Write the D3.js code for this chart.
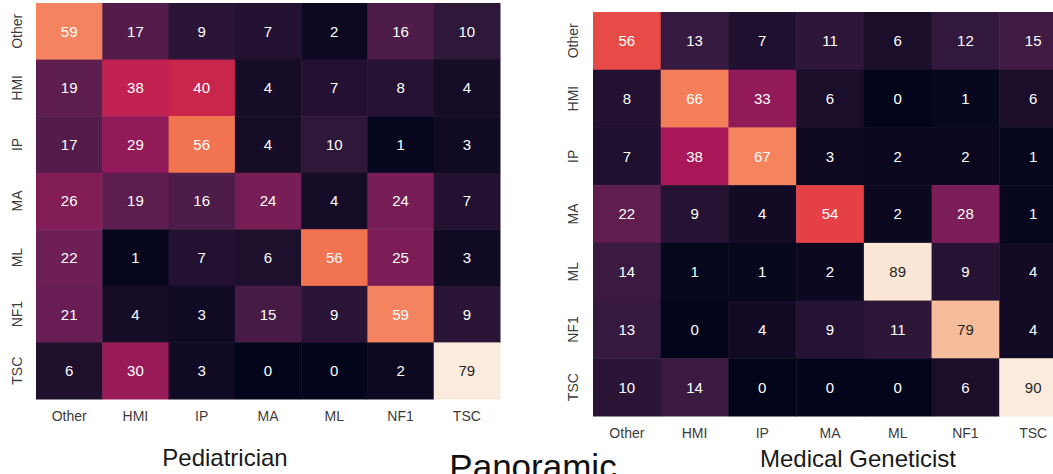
<!DOCTYPE html>
<html>
<head>
<meta charset="utf-8">
<script src="https://cdn.jsdelivr.net/npm/d3@7"></script>
<style>
  body { margin: 0; background: #fff; }
  svg { display: block; font-family: "Liberation Sans", Arial, sans-serif; }
</style>
</head>
<body>
<svg id="chart" width="1053" height="474"></svg>
<script>
// class labels (rows = true, cols = predicted)
var labels = ["Other", "HMI", "IP", "MA", "ML", "NF1", "TSC"];

var pediatrician = [
  [59, 17, 9, 7, 2, 16, 10],
  [19, 38, 40, 4, 7, 8, 4],
  [17, 29, 56, 4, 10, 1, 3],
  [26, 19, 16, 24, 4, 24, 7],
  [22, 1, 7, 6, 56, 25, 3],
  [21, 4, 3, 15, 9, 59, 9],
  [6, 30, 3, 0, 0, 2, 79]
];

var geneticist = [
  [56, 13, 7, 11, 6, 12, 15],
  [8, 66, 33, 6, 0, 1, 6],
  [7, 38, 67, 3, 2, 2, 1],
  [22, 9, 4, 54, 2, 28, 1],
  [14, 1, 1, 2, 89, 9, 4],
  [13, 0, 4, 9, 11, 79, 4],
  [10, 14, 0, 0, 0, 6, 90]
];

var titles = ["Pediatrician", "Medical Geneticist"];
var middleTitle = "Panoramic";

// seaborn "rocket" colormap, sampled
var rocket = ["#03051a", "#35193e", "#701f57", "#ad1759", "#e13342", "#f37651", "#f6b48f", "#faebdd"];

var svg = d3.select("#chart");

function luminance(c) {
  var rgb = d3.rgb(c);
  var lin = [rgb.r, rgb.g, rgb.b].map(function(v) {
    v = v / 255;
    return v <= 0.03928 ? v / 12.92 : Math.pow((v + 0.055) / 1.055, 2.4);
  });
  return 0.2126 * lin[0] + 0.7152 * lin[1] + 0.0722 * lin[2];
}

function drawHeatmap(data, box, title, titlePos) {
  var g = svg.append("g");

  var x = d3.scaleBand().domain(labels).range([box.left, box.right]);
  var y = d3.scaleBand().domain(labels).range([box.top, box.bottom]);

  var vmax = d3.max(data, function(r) { return d3.max(r); });
  var vmin = d3.min(data, function(r) { return d3.min(r); });
  var color = d3.scaleLinear()
      .domain(rocket.map(function(d, i) { return vmin + (vmax - vmin) * i / (rocket.length - 1); }))
      .range(rocket);

  var cells = [];
  data.forEach(function(row, i) {
    row.forEach(function(v, j) {
      cells.push({ row: labels[i], col: labels[j], value: v });
    });
  });

  g.selectAll(".cell")
    .data(cells)
    .enter().append("rect")
      .attr("class", "cell")
      .attr("x", function(d) { return x(d.col); })
      .attr("y", function(d) { return y(d.row); })
      .attr("width", x.bandwidth() + 0.5)
      .attr("height", y.bandwidth() + 0.5)
      .attr("fill", function(d) { return color(d.value); });

  g.selectAll(".annot")
    .data(cells)
    .enter().append("text")
      .attr("class", "annot")
      .attr("x", function(d) { return x(d.col) + x.bandwidth() / 2; })
      .attr("y", function(d) { return y(d.row) + y.bandwidth() / 2; })
      .attr("dy", "0.36em")
      .attr("text-anchor", "middle")
      .style("font-size", "15px")
      .style("fill", function(d) { return luminance(color(d.value)) > 0.408 ? "#262626" : "#ffffff"; })
      .text(function(d) { return d.value; });

  // x axis
  var xa = g.append("g")
      .attr("transform", "translate(0," + box.bottom + ")")
      .call(d3.axisBottom(x).tickSize(0).tickPadding(12));
  xa.select(".domain").remove();
  xa.selectAll("text").style("font-size", "14px").style("fill", "#3c3c3c").attr("font-family", null);

  // y axis, labels rotated
  var ya = g.append("g")
      .attr("transform", "translate(" + box.left + ",0)")
      .call(d3.axisLeft(y).tickSize(0));
  ya.select(".domain").remove();
  ya.selectAll("text")
      .attr("x", 0)
      .attr("dy", "0.35em")
      .attr("text-anchor", "middle")
      .attr("transform", "translate(" + box.labelOffset + ",0) rotate(-90)")
      .style("font-size", "14px")
      .style("fill", "#3c3c3c");
  ya.attr("font-family", null);
  xa.attr("font-family", null);

  svg.append("text")
      .attr("x", titlePos[0])
      .attr("y", titlePos[1])
      .attr("text-anchor", "middle")
      .style("font-size", "24px")
      .style("fill", "#1a1a1a")
      .text(title);
}

drawHeatmap(pediatrician, { left: 36, right: 500, top: 3, bottom: 399, labelOffset: -19 }, titles[0], [225, 466]);
drawHeatmap(geneticist, { left: 593, right: 1067, top: 12, bottom: 416, labelOffset: -20 }, titles[1], [858, 467]);

svg.append("text")
    .attr("x", 533)
    .attr("y", 479)
    .attr("text-anchor", "middle")
    .style("font-size", "35px")
    .style("fill", "#111")
    .text(middleTitle);
</script>
</body>
</html>
